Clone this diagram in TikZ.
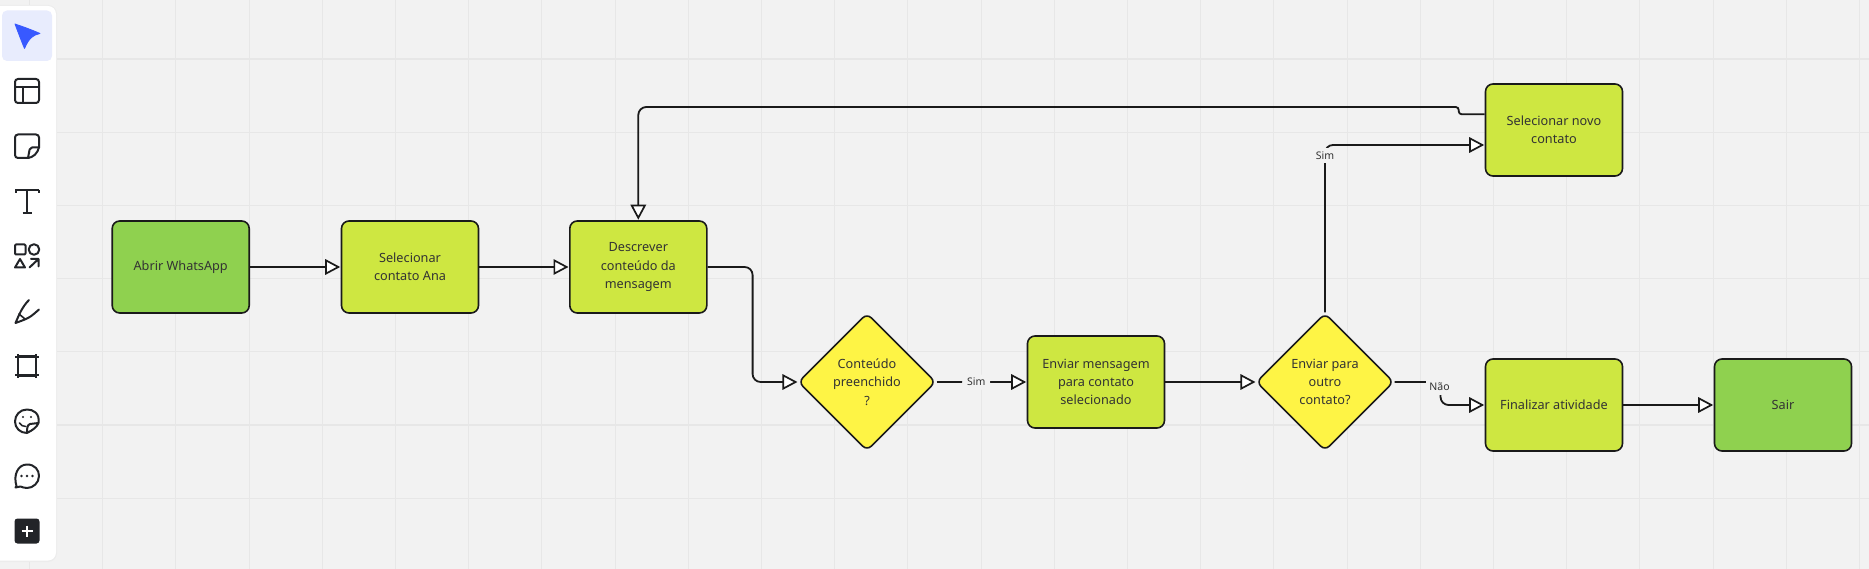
\documentclass[tikz,border=0pt]{standalone}
\usepackage{fontspec}
\setmainfont{Noto Sans}
\usetikzlibrary{arrows.meta,shapes.geometric,calc}
\definecolor{bgc}{HTML}{F2F2F2}
\definecolor{gridc}{HTML}{E7E7E7}
\definecolor{limec}{HTML}{CEE741}
\definecolor{greenc}{HTML}{8FD14F}
\definecolor{yellowc}{HTML}{FEF445}
\definecolor{inkc}{HTML}{1A1A1A}
\definecolor{textc}{HTML}{333333}
\definecolor{iconc}{HTML}{222428}
\definecolor{bluec}{HTML}{3859FF}
\definecolor{hlc}{HTML}{E8ECFD}
\tikzset{
  boxbase/.style={draw=inkc,line width=1.6pt,rounded corners=7.5pt,minimum width=137pt,minimum height=92pt,inner sep=0pt,align=center,text=textc,font=\fontsize{12.7}{18.3}\selectfont},
  greenbox/.style={boxbase,fill=greenc},
  limebox/.style={boxbase,fill=limec},
  decision/.style={diamond,aspect=1,draw=inkc,line width=1.6pt,rounded corners=6pt,fill=yellowc,minimum width=137.5pt,minimum height=137.5pt,inner sep=0pt},
  dectext/.style={align=center,text=textc,font=\fontsize{12.7}{18.3}\selectfont},
  conn/.style={draw=inkc,line width=1.8pt,rounded corners=8pt,-{Triangle[open,length=15pt,width=15.5pt,fill=white,line width=1.7pt]},shorten >=0.5pt},
  lbl/.style={fill=bgc,inner sep=0pt,minimum width=28pt,minimum height=15pt,text=textc,font=\fontsize{10.5}{12}\selectfont},
  ico/.style={draw=iconc,line width=2pt,line join=round,line cap=round},
}
\begin{document}
\begin{tikzpicture}[x=1pt,y=-1pt]
\useasboundingbox (0,0) rectangle (1869,569);
\fill[bgc] (0,0) rectangle (1869,569);
% grid
\foreach \i in {0,...,25} \draw[gridc,line width=1.1pt] ({29.5+73.2*\i},0) -- ({29.5+73.2*\i},569);
\foreach \j in {0,...,6} \draw[gridc,line width=1.1pt] (0,{59+73.2*\j}) -- (1869,{59+73.2*\j});
% sidebar
\fill[rounded corners=9pt,gray!15] (-8,5) rectangle (57,562);
\fill[rounded corners=8pt,white] (-8,6) rectangle (56,560.5);
\fill[rounded corners=5pt,hlc] (2,10.5) rectangle (52,61);
% cursor
\fill[bluec,line join=round,draw=bluec,line width=0.8pt] (15,24) .. controls (24,27) and (32,30) .. (40,33.5) .. controls (33,35) and (29,38) .. (24.5,48.5) .. controls (21,40) and (18,32) .. (15,24) -- cycle;
% layout
\draw[ico,rounded corners=3pt] (15,79) rectangle (39,103);
\draw[ico] (15,87) -- (39,87) (23,87) -- (23,103);
% sticky
\draw[ico,rounded corners=3pt] (39,148) -- (39,134.5) -- (15,134.5) -- (15,158) -- (29,158);
\draw[ico,rounded corners=3pt] (39,147) .. controls (38,153) and (33,158) .. (27,158);
\draw[ico,rounded corners=2pt] (38.5,147.5) -- (30,147.5) -- (28,158);
% text tool
\draw[ico,line cap=butt] (15,190) -- (39,190) (27,190) -- (27,213) (22.5,213) -- (32,213) (15.5,190) -- (15.5,193.5) (38.5,190) -- (38.5,193.5);
% shapes
\draw[ico,rounded corners=1pt] (15,244.5) rectangle (25.5,254.5);
\draw[ico] (34,249.5) circle (5.3);
\draw[ico] (20,259) -- (25,267.5) -- (15,267.5) -- cycle;
\draw[ico] (29.5,267.5) -- (38.5,259) (31,259) -- (38.5,259) -- (38.5,266.5);
% pen
\draw[ico] (15.5,323) .. controls (19,315) and (22,307) .. (29,300) (15.5,323) .. controls (21,321) and (24,320) .. (28,318) .. controls (32,316) and (36,312) .. (39,309.5);
\draw[ico,line width=1.6pt] (19,314) -- (25,319);
% frame
\draw[ico,line cap=butt] (18,356) rectangle (36,376);
\draw[ico,line cap=butt] (15,357) -- (39,357) (15,375) -- (39,375) (18,354) -- (18,378) (36,354) -- (36,378);
% sticker
\draw[ico] (38.5,423) .. controls (40,413) and (33,409.5) .. (27,409.5) .. controls (20,409.5) and (15,415) .. (15,421.5) .. controls (15,428) and (20,433) .. (27,433) .. controls (33,430) and (37,427) .. (38.5,423) -- (30,424) .. controls (27,425) and (27,429) .. (27,433);
\fill[iconc] (23,417) circle (1.2) (31,417) circle (1.2);
\draw[ico,line width=1.5pt] (19.5,423) .. controls (21,425.5) and (23,426.5) .. (26,426.5);
% comment
\draw[ico] (16.5,486) .. controls (13,475) and (18,464.5) .. (27,464.5) .. controls (35,464.5) and (39,470) .. (39,476) .. controls (39,483) and (33,488) .. (27,488) .. controls (24,488) and (22,487) .. (20.5,486.5) -- (15.5,487.5) -- cycle;
\fill[iconc] (21.5,476) circle (1.3) (27,476) circle (1.3) (32.5,476) circle (1.3);
% plus
\fill[iconc,rounded corners=3pt] (14.5,518.5) rectangle (39.5,543.5);
\draw[white,line width=2.6pt] (21.5,531) -- (32.5,531) (27,525.5) -- (27,536.5);
% nodes
\node[greenbox] (abrir) at (180.7,267) {Abrir WhatsApp};
\node[limebox] (ana) at (410,267) {Selecionar\\contato Ana};
\node[limebox] (desc) at (638.3,267) {Descrever\\conteúdo da\\mensagem};
\node[decision,label={[dectext]center:Conteúdo\\preenchido\\?}] (dec1) at (867,382) {};
\node[limebox] (env) at (1096,382) {Enviar mensagem\\para contato\\selecionado};
\node[decision,label={[dectext]center:Enviar para\\outro\\contato?}] (dec2) at (1325,382) {};
\node[limebox] (novo) at (1554,130) {Selecionar novo\\contato};
\node[limebox] (fim) at (1554,405) {Finalizar atividade};
\node[greenbox] (sair) at (1783,405) {Sair};
% connectors
\draw[conn] (abrir.east) -- (ana.west);
\draw[conn] (ana.east) -- (desc.west);
\draw[conn,shorten >=0pt] (desc.east) -- ++(45,0) |- (dec1.west);
\draw[conn] (dec1.east) -- node[lbl,pos=0.44] (sim1) {Sim} (env.west);
\draw[conn,shorten >=0pt] (env.east) -- (dec2.west);
\draw[conn] (dec2.north) |- ([yshift=-15pt]novo.west);
\node[lbl] (sim2) at (1325,155.5) {Sim};
\draw[conn] (dec2.east) -- ++(46,0) |- (fim.west);
\node[lbl] (nao) at (1439.5,387) {Não};
\draw[conn] (fim.east) -- (sair.west);
\draw[conn] ([yshift=15.7pt]novo.west) [rounded corners=3pt] -- ++(-26,0) -- ++(0,-7.3) [rounded corners=8pt] -| (desc.north);
\end{tikzpicture}
\end{document}
